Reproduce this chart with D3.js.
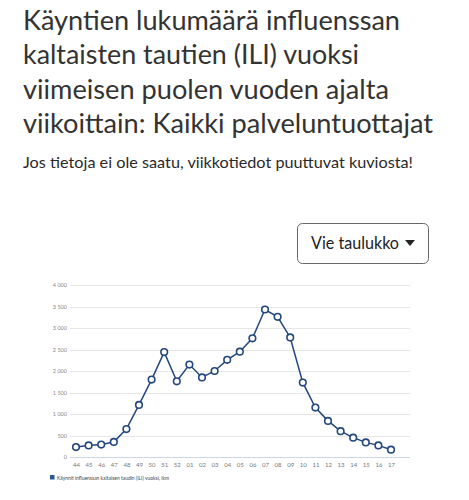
<!DOCTYPE html>
<html><head><meta charset="utf-8">
<script src="https://cdn.jsdelivr.net/npm/d3@7"></script>
<style>
html,body{margin:0;padding:0;background:#fff;}
svg{display:block;}
</style></head>
<body>
<svg id="c" width="469" height="500"></svg>
<script>
const titleLines = ["Käyntien lukumäärä influenssan","kaltaisten tautien (ILI) vuoksi","viimeisen puolen vuoden ajalta","viikoittain: Kaikki palveluntuottajat"];
const subtitle = "Jos tietoja ei ole saatu, viikkotiedot puuttuvat kuviosta!";
const buttonLabel = "Vie taulukko";
const seriesName = "Käynnit influenssan kaltaisen taudin (ILI) vuoksi, lkm";
const weeks = ["44","45","46","47","48","49","50","51","52","01","02","03","04","05","06","07","08","09","10","11","12","13","14","15","16","17"];
const visits = [230,270,290,350,650,1210,1800,2440,1760,2150,1850,2000,2260,2450,2760,3430,3260,2780,1730,1150,840,600,450,340,270,170];
const yTicks = [0,500,1000,1500,2000,2500,3000,3500,4000];

const svg = d3.select("#c");
const font = "'Source Sans Pro','Lato','Open Sans',sans-serif";

// Title
const titleWidths = [377, 336, 366, 410];
titleLines.forEach((t,i)=>{
  svg.append("text").attr("x",23).attr("y",29.5+i*34.6)
    .attr("font-family",font).attr("font-size",27).attr("font-weight",400).attr("fill","#333")
    .attr("textLength",titleWidths[i]).attr("lengthAdjust","spacingAndGlyphs")
    .text(t);
});
svg.append("text").attr("x",23).attr("y",168)
  .attr("font-family",font).attr("font-size",16).attr("fill","#2a2a2a")
  .attr("textLength",390).attr("lengthAdjust","spacingAndGlyphs")
  .text(subtitle);

// Button
svg.append("rect").attr("x",297.5).attr("y",223.5).attr("width",131).attr("height",40)
  .attr("rx",5).attr("fill","#fff").attr("stroke","#666").attr("stroke-width",1);
svg.append("text").attr("x",311).attr("y",249)
  .attr("font-family",font).attr("font-size",17).attr("fill","#222")
  .attr("textLength",88).attr("lengthAdjust","spacingAndGlyphs")
  .text(buttonLabel);
svg.append("path").attr("d","M405,240 L415,240 L410,246 Z").attr("fill","#222");

// Chart
const x = d3.scalePoint().domain(weeks).range([76,391]);
const y = d3.scaleLinear().domain([0,4000]).range([457,285]);
const plotL = 70, plotR = 410;

const grid = svg.append("g");
grid.selectAll("line").data(yTicks).join("line")
  .attr("x1",plotL).attr("x2",plotR)
  .attr("y1",d=>Math.round(y(d))+0.5).attr("y2",d=>Math.round(y(d))+0.5)
  .attr("stroke",d=>d===0?"#ccd6eb":"#e6e6e6").attr("stroke-width",1);

const fmt = d=> d3.format(",")(d).replace(/,/g," ");
const yAxis = d3.axisLeft(y).tickValues(yTicks).tickSize(0).tickPadding(3).tickFormat(fmt);
const ya = svg.append("g").attr("transform",`translate(${plotL},0)`).call(yAxis);
ya.select(".domain").remove();
ya.selectAll("text").attr("font-family",font).attr("font-size",5.5).attr("fill","#888");

const xAxis = d3.axisBottom(x).tickSize(0).tickPadding(6);
const xa = svg.append("g").attr("transform",`translate(0,${y(0)})`).call(xAxis);
xa.select(".domain").remove();
xa.selectAll("text").attr("font-family",font).attr("font-size",6).attr("fill","#777");

const data = weeks.map((w,i)=>({w,v:visits[i]}));
svg.append("path").datum(data)
  .attr("d",d3.line().x(d=>x(d.w)).y(d=>y(d.v)))
  .attr("fill","none").attr("stroke","#23477e").attr("stroke-width",1.5);
svg.append("g").selectAll("circle").data(data).join("circle")
  .attr("cx",d=>x(d.w)).attr("cy",d=>y(d.v)).attr("r",3.3)
  .attr("fill","#fff").attr("stroke","#23477e").attr("stroke-width",1.6);

// Legend
svg.append("rect").attr("x",50).attr("y",475).attr("width",4.5).attr("height",4.5).attr("fill","#2a5597");
svg.append("text").attr("x",57).attr("y",479.5)
  .attr("font-family",font).attr("font-size",5).attr("fill","#444")
  .attr("textLength",112).attr("lengthAdjust","spacingAndGlyphs")
  .text(seriesName);
</script>
</body></html>
